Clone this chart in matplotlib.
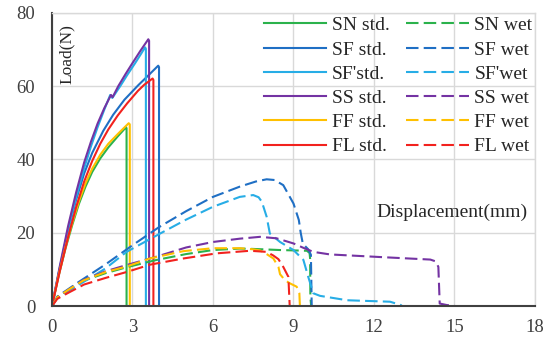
import matplotlib
matplotlib.use("Agg")
import matplotlib.pyplot as plt

plt.rcParams['font.family'] = ['Liberation Serif', 'DejaVu Serif']

# ---- data (displacement mm, load N) ----
sn_std_x = [0, 0.25, 0.5, 0.75, 1.0, 1.25, 1.5, 1.8, 2.1, 2.45, 2.76, 2.78, 2.78]
sn_std_y = [0, 8.3, 15.6, 22.0, 27.8, 32.6, 36.6, 40.3, 43.3, 46.3, 48.8, 48.5, 0]
sf_std_x = [0, 0.3, 0.6, 0.9, 1.2, 1.5, 1.91, 2.28, 2.7, 3.22, 3.6, 3.96, 3.99, 3.99]
sf_std_y = [0, 10.6, 20.5, 29.0, 36.2, 41.8, 47.8, 52.2, 56.3, 60.3, 63.0, 65.6, 65.2, 0]
sfp_std_x = [0, 0.3, 0.6, 0.9, 1.2, 1.45, 1.7, 1.95, 2.17, 2.25, 2.56, 2.8, 3.1, 3.3, 3.47, 3.5, 3.5]
sfp_std_y = [0, 10.8, 20.8, 29.7, 37.6, 43.5, 48.8, 53.6, 57.6, 56.8, 60.2, 63.0, 66.3, 68.6, 70.6, 70.2, 0]
ss_std_x = [0, 0.3, 0.6, 0.9, 1.2, 1.45, 1.7, 1.95, 2.2, 2.26, 2.47, 2.75, 3.0, 3.3, 3.59, 3.62, 3.62]
ss_std_y = [0, 11.2, 21.8, 31.0, 39.2, 44.8, 49.8, 54.0, 57.6, 57.0, 60.0, 63.4, 66.3, 69.7, 72.8, 72.4, 0]
ff_std_x = [0, 0.25, 0.5, 0.75, 1.0, 1.25, 1.5, 1.8, 2.1, 2.5, 2.86, 2.9, 2.9]
ff_std_y = [0, 8.5, 16.0, 22.5, 28.5, 33.5, 37.5, 41.3, 44.3, 47.3, 49.9, 49.6, 0]
fl_std_x = [0, 0.3, 0.6, 0.9, 1.2, 1.5, 1.8, 2.1, 2.45, 2.8, 3.2, 3.44, 3.75, 3.78, 3.78]
fl_std_y = [0, 9.8, 18.8, 27.0, 34.0, 39.6, 44.3, 48.2, 52.0, 55.3, 58.7, 60.4, 62.1, 61.7, 0]

sn_wet_x = [0, 0.2, 0.6, 1.17, 2.0, 2.78, 3.9, 5.0, 6.0, 7.0, 7.5, 8.5, 9.5, 9.6, 9.62, 9.63, 9.66]
sn_wet_y = [0, 2.4, 4.3, 6.9, 9.0, 10.6, 12.6, 14.2, 15.3, 15.7, 15.6, 15.3, 15.1, 14.5, 13.0, 2.5, 0]
sf_wet_x = [0, 0.2, 1.0, 2.0, 3.0, 4.0, 5.0, 6.0, 7.0, 7.6, 8.0, 8.3, 8.62, 9.0, 9.2, 9.27, 9.35, 9.55, 9.65, 9.68]
sf_wet_y = [0, 2.6, 6.6, 11.4, 16.6, 21.6, 25.9, 29.8, 32.6, 34.0, 34.6, 34.4, 33.0, 28.0, 23.5, 20.0, 17.0, 15.5, 14.0, 0]
sfp_wet_x = [0, 0.2, 1.0, 2.0, 2.78, 4.03, 5.0, 6.0, 7.0, 7.5, 7.7, 7.82, 8.0, 8.12, 8.5, 9.0, 9.37, 9.55, 9.74,
             9.99, 11.0, 12.6, 13.0, 13.05]
sfp_wet_y = [0, 2.3, 5.8, 10.3, 14.8, 19.8, 23.6, 27.1, 29.8, 30.3, 29.7, 28.5, 24.4, 19.8, 17.5, 15.3, 12.6, 8.0, 3.5,
             2.8, 1.6, 1.2, 0.3, 0]
ss_wet_x = [0, 0.2, 0.6, 1.17, 2.0, 2.78, 3.9, 5.0, 6.0, 7.0, 7.75, 8.37, 9.0, 9.37, 9.74, 10.36, 12.2, 14.1, 14.3,
            14.4, 14.45, 14.71, 15.05]
ss_wet_y = [0, 2.4, 4.4, 7.1, 9.5, 11.2, 13.5, 16.0, 17.5, 18.4, 18.9, 18.5, 17.1, 15.9, 14.8, 14.1, 13.4, 12.7, 12.2,
            10.7, 0.7, 0.3, 0]
ff_wet_x = [0, 0.2, 0.6, 1.17, 2.0, 2.78, 3.65, 4.9, 6.0, 7.0, 7.5, 7.75, 8.0, 8.25, 8.44, 8.5, 8.68, 8.87, 9.12,
            9.22, 9.24]
ff_wet_y = [0, 2.4, 4.4, 7.0, 9.3, 10.8, 13.0, 15.0, 15.8, 15.8, 15.5, 15.2, 14.2, 13.0, 10.7, 8.7, 7.1, 6.2, 5.3,
            3.5, 0]
fl_wet_x = [0, 0.2, 0.6, 1.2, 2.0, 2.78, 3.65, 4.9, 6.14, 7.38, 8.0, 8.25, 8.44, 8.62, 8.81, 8.85, 8.86]
fl_wet_y = [0, 2.0, 3.6, 5.9, 7.7, 9.3, 11.3, 13.0, 14.4, 15.1, 14.8, 13.8, 12.8, 10.7, 8.0, 1.6, 0]

std_labels = ['SN std.', 'SF std.', "SF'std.", 'SS std.', 'FF std.', 'FL std.']
wet_labels = ['SN wet', 'SF wet', "SF'wet", 'SS wet', 'FF wet', 'FL wet']
colors = ['#2bb24c', '#1f6fc4', '#27ade6', '#7433a3', '#ffc000', '#f2221e']

x_ticks = [0, 3, 6, 9, 12, 15, 18]
y_ticks = [0, 20, 40, 60, 80]

std_series = [(sn_std_x, sn_std_y), (sf_std_x, sf_std_y), (sfp_std_x, sfp_std_y),
              (ss_std_x, ss_std_y), (ff_std_x, ff_std_y), (fl_std_x, fl_std_y)]
wet_series = [(sn_wet_x, sn_wet_y), (sf_wet_x, sf_wet_y), (sfp_wet_x, sfp_wet_y),
              (ss_wet_x, ss_wet_y), (ff_wet_x, ff_wet_y), (fl_wet_x, fl_wet_y)]

fig = plt.figure(figsize=(5.47, 3.39), dpi=100)
ax = fig.add_axes([0.095, 0.097, 0.883, 0.865])

for (xs, ys), lab, c in zip(std_series, std_labels, colors):
    ax.plot(xs, ys, color=c, lw=1.5, label=lab)
for (xs, ys), lab, c in zip(wet_series, wet_labels, colors):
    ax.plot(xs, ys, color=c, lw=1.5, ls=(0, (6, 2.5)), label=lab)

ax.set_xlim(0, 18)
ax.set_ylim(0, 80)
ax.set_xticks(x_ticks)
ax.set_yticks(y_ticks)
ax.tick_params(axis='both', length=0, labelsize=13.5, colors='#404040')
ax.tick_params(axis='y', pad=12)
ax.tick_params(axis='x', pad=9)
ax.grid(True, color='#d9d9d9', lw=1)
ax.set_axisbelow(True)
for s in ['left', 'bottom']:
    ax.spines[s].set_color('#404040')
    ax.spines[s].set_linewidth(1.5)
for s in ['top', 'right']:
    ax.spines[s].set_color('#d9d9d9')
    ax.spines[s].set_linewidth(1)

ax.text(0.031, 0.86, 'Load(N)', rotation=90, transform=ax.transAxes,
        fontsize=12.5, color='#262626', ha='center', va='center')
ax.text(0.985, 0.32, 'Displacement(mm)', transform=ax.transAxes,
        fontsize=14, color='#262626', ha='right', va='center')

leg = ax.legend(ncol=2, loc='upper left', bbox_to_anchor=(0.439, 0.987),
                frameon=False, fontsize=14, handlelength=3.2, handletextpad=0.3,
                columnspacing=0.85, labelspacing=0.34, borderpad=0, borderaxespad=0)
for t in leg.get_texts():
    t.set_color('#262626')

fig.savefig('out.png', dpi=100)
